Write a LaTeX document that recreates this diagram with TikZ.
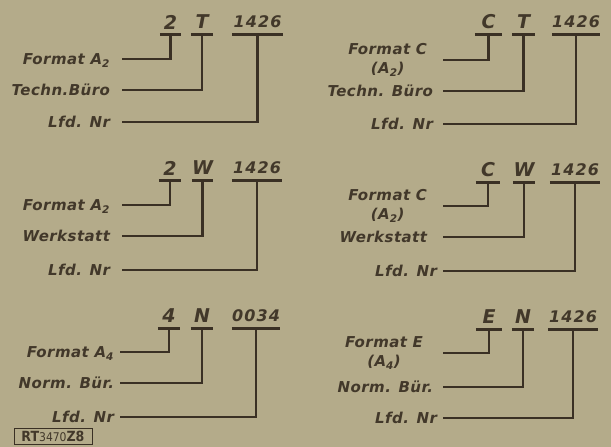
\documentclass[tikz,border=0pt]{standalone}
\usepackage{fontspec}
\setmainfont{DejaVu Sans}
\newfontfamily\labfont{DejaVu Sans}[LetterSpace=3]
\newfontfamily\codefont{DejaVu Sans}[LetterSpace=7]
\newfontfamily\stampfont{DejaVu Sans Condensed}
\definecolor{bg}{RGB}{180,171,138}
\definecolor{ink}{RGB}{58,48,36}
\definecolor{txt}{RGB}{66,56,42}
\tikzset{
  labbase/.style={font=\labfont\bfseries\itshape\fontsize{15}{19.5}\selectfont, text=txt, inner sep=0pt, outer xsep=#1},
  lab/.style={labbase=#1, text height=11pt, text depth=0pt, anchor=east},
  lab/.default=12pt,
  labtwo/.style={labbase=#1, align=center, anchor=east},
  codebox/.style={font=\codefont\bfseries\itshape\fontsize{19}{19}\selectfont, text=txt, inner sep=0pt, minimum height=24pt, minimum width=#1},
  numbox/.style={codebox=#1, font=\codefont\bfseries\itshape\fontsize{16}{16}\selectfont},
  conn/.style={draw=ink, line width=2.7pt, line join=miter},
  ul/.style={draw=ink, line width=2.7pt},
}
\begin{document}
\begin{tikzpicture}[x=1pt,y=-1pt]
\fill[bg] (0,0) rectangle (611,447);
\useasboundingbox (0,0) rectangle (611,447);

% ---------- top left
\node[codebox=21pt] (tla) at (170.5,22) {2};
\node[codebox=22pt] (tlb) at (202,22) {T};
\node[numbox=51pt] (tlc) at (257.5,22) {1426};
\node[lab] (tlx) at (122,59) {Format A\textsubscript{2}};
\node[lab] (tly) at (122,90) {Techn.Büro};
\node[lab] (tlz) at (122,122) {Lfd. Nr};
\foreach \n in {tla,tlb,tlc} \draw[ul] (\n.south west) -- (\n.south east);
\draw[conn] (tlx.east) -| (tla.south);
\draw[conn] (tly.east) -| (tlb.south);
\draw[conn] (tlz.east) -| (tlc.south);

% ---------- middle left
\node[codebox=22pt] (mla) at (170,168) {2};
\node[codebox=21pt] (mlb) at (202.5,168) {W};
\node[numbox=50pt] (mlc) at (257,168) {1426};
\node[lab] (mlx) at (122,205) {Format A\textsubscript{2}};
\node[lab] (mly) at (122,236) {Werkstatt};
\node[lab] (mlz) at (122,270) {Lfd. Nr};
\foreach \n in {mla,mlb,mlc} \draw[ul] (\n.south west) -- (\n.south east);
\draw[conn] (mlx.east) -| (mla.south);
\draw[conn] (mly.east) -| (mlb.south);
\draw[conn] (mlz.east) -| (mlc.south);

% ---------- bottom left
\node[codebox=22pt] (bla) at (169,316) {4};
\node[codebox=22pt] (blb) at (202,316) {N};
\node[numbox=48pt] (blc) at (256,316) {0034};
\node[lab=6pt] (blx) at (120,352) {Format A\textsubscript{4}};
\node[lab=6pt] (bly) at (120,383) {Norm. Bür.};
\node[lab=6pt] (blz) at (120,417) {Lfd. Nr};
\foreach \n in {bla,blb,blc} \draw[ul] (\n.south west) -- (\n.south east);
\draw[conn] (blx.east) -| (bla.south);
\draw[conn] (bly.east) -| (blb.south);
\draw[conn] (blz.east) -| (blc.south);

% ---------- top right
\node[codebox=27pt] (tra) at (488.5,22) {C};
\node[codebox=23pt] (trb) at (523.5,22) {T};
\node[numbox=48pt] (trc) at (576,22) {1426};
\node[labtwo=16pt] (trx) at (443,60) {Format C\\(A\textsubscript{2})};
\node[lab=10pt] (try) at (443,91) {Techn. Büro};
\node[lab=10pt] (trz) at (443,124) {Lfd. Nr};
\foreach \n in {tra,trb,trc} \draw[ul] (\n.south west) -- (\n.south east);
\draw[conn] (trx.east) -| (tra.south);
\draw[conn] (try.east) -| (trb.south);
\draw[conn] (trz.east) -| (trc.south);

% ---------- middle right
\node[codebox=24pt] (mra) at (488,170) {C};
\node[codebox=22pt] (mrb) at (524,170) {W};
\node[numbox=50pt] (mrc) at (575,170) {1426};
\node[labtwo=16pt] (mrx) at (443,206) {Format C\\(A\textsubscript{2})};
\node[lab=16pt] (mry) at (443,237) {Werkstatt};
\node[lab=6pt] (mrz) at (443,271) {Lfd. Nr};
\foreach \n in {mra,mrb,mrc} \draw[ul] (\n.south west) -- (\n.south east);
\draw[conn] (mrx.east) -| (mra.south);
\draw[conn] (mry.east) -| (mrb.south);
\draw[conn] (mrz.east) -| (mrc.south);

% ---------- bottom right
\node[codebox=26pt] (bra) at (489,317) {E};
\node[codebox=22pt] (brb) at (523,317) {N};
\node[numbox=50pt] (brc) at (573,317) {1426};
\node[labtwo=20pt] (brx) at (443,353) {Format E\\(A\textsubscript{4})};
\node[lab=10pt] (bry) at (443,387) {Norm. Bür.};
\node[lab=6pt] (brz) at (443,418) {Lfd. Nr};
\foreach \n in {bra,brb,brc} \draw[ul] (\n.south west) -- (\n.south east);
\draw[conn] (brx.east) -| (bra.south);
\draw[conn] (bry.east) -| (brb.south);
\draw[conn] (brz.east) -| (brc.south);

% ---------- stamp
\node[draw=ink, line width=1pt, text=txt, inner sep=0.5pt, minimum width=78pt, minimum height=16pt]
  (stamp) at (53,436) {\stampfont{\bfseries\fontsize{14}{14}\selectfont RT}{\fontsize{12}{12}\selectfont 3470}{\bfseries\fontsize{14}{14}\selectfont Z8}};
\end{tikzpicture}
\end{document}
